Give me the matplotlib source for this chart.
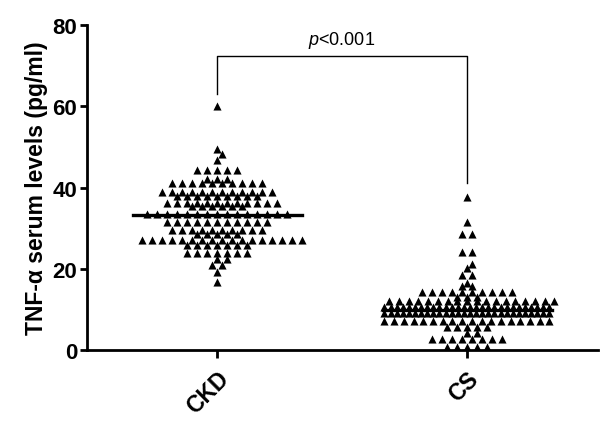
import numpy as np
import matplotlib
matplotlib.use("Agg")
import matplotlib.pyplot as plt

plt.rcParams['font.family'] = ['Liberation Sans', 'DejaVu Sans']
plt.rcParams['mathtext.fontset'] = 'custom'
plt.rcParams['mathtext.it'] = 'Liberation Sans:italic'
plt.rcParams['mathtext.rm'] = 'Liberation Sans'

categories = ["CKD", "CS"]

# row levels (pg/ml) and number of triangles in each row
ckd_levels = [60.0, 49.5, 48.3, 46.7, 44.3, 42.2, 41.0, 38.8, 38.0, 36.3, 35.4,
              33.5, 31.6, 29.6, 28.5, 27.0, 25.8, 24.0, 22.3, 21.0, 19.2, 16.8]
ckd_counts = [1, 1, 1, 1, 5, 3, 10, 12, 9, 12, 6,
              15, 11, 10, 5, 17, 7, 7, 2, 2, 1, 1]

cs_levels = [37.6, 31.6, 28.6, 24.2, 21.2, 20.3, 18.5, 16.5, 15.8, 14.2, 13.0,
             12.0, 10.7, 9.0, 7.2, 5.6, 4.3, 2.7, 0.7]
cs_counts = [1, 1, 2, 2, 1, 1, 2, 1, 2, 10, 3,
             18, 28, 28, 18, 5, 2, 8, 5]

center_lines = [33.2, 9.8]   # horizontal lines drawn in each group
p_text = "<0.001"

yticks = [0, 20, 40, 60, 80]


def swarm(levels, counts, center, step_max=0.04, half_width=0.33):
    xs, ys = [], []
    prev_level, prev_parity, prev_shift = None, None, 0.0
    order = np.argsort(levels)
    for k in order:
        lv, n = levels[k], counts[k]
        step = step_max if n < 2 else min(step_max, 2 * half_width / (n - 1))
        shift = 0.0
        if prev_level is not None and abs(lv - prev_level) < 1.6 and prev_parity == n % 2:
            shift = step / 2 if prev_shift == 0 else 0.0
        off = (np.arange(n) - (n - 1) / 2) * step + shift
        xs.extend(center + off)
        ys.extend([lv] * n)
        prev_level, prev_parity, prev_shift = lv, n % 2, shift
    return np.array(xs), np.array(ys)


fig = plt.figure(figsize=(6.0, 4.27), dpi=100)
ax = fig.add_axes([0.145, 0.178, 0.852, 0.761])

for i, (lv, ct) in enumerate([(ckd_levels, ckd_counts), (cs_levels, cs_counts)]):
    x, y = swarm(lv, ct, i)
    ax.scatter(x, y, marker='^', s=34, color='black', linewidths=0, zorder=3)
    ax.plot([i - 0.335, i + 0.34], [center_lines[i]] * 2, color='black', lw=2.4, zorder=4)

# significance bracket
ax.plot([0, 0, 1, 1], [63, 72.3, 72.3, 41], color='black', lw=1.0, clip_on=False)
ax.text(0.5, 73.8, r"$\it{p}$" + p_text, ha='center', va='bottom', fontsize=13)

ax.set_xlim(-0.52, 1.525)
ax.set_ylim(0, 80)
ax.set_yticks(yticks)
ax.set_yticklabels([str(t) for t in yticks], fontsize=16, fontweight='bold')
ax.set_xticks([0, 1])
ax.set_xticklabels(categories, fontsize=16.5, fontweight='bold', rotation=45,
                   ha='right', va='top', rotation_mode='anchor')
ax.set_ylabel("TNF-α serum levels (pg/ml)", fontsize=16.5, fontweight='bold', labelpad=3)

for s in ['top', 'right']:
    ax.spines[s].set_visible(False)
for s in ['left', 'bottom']:
    ax.spines[s].set_linewidth(2.0)
ax.tick_params(axis='both', width=2.0, length=5, direction='out')
ax.tick_params(axis='x', length=6, pad=6)
ax.tick_params(axis='y', pad=2)

fig.savefig("out.png", dpi=100)
